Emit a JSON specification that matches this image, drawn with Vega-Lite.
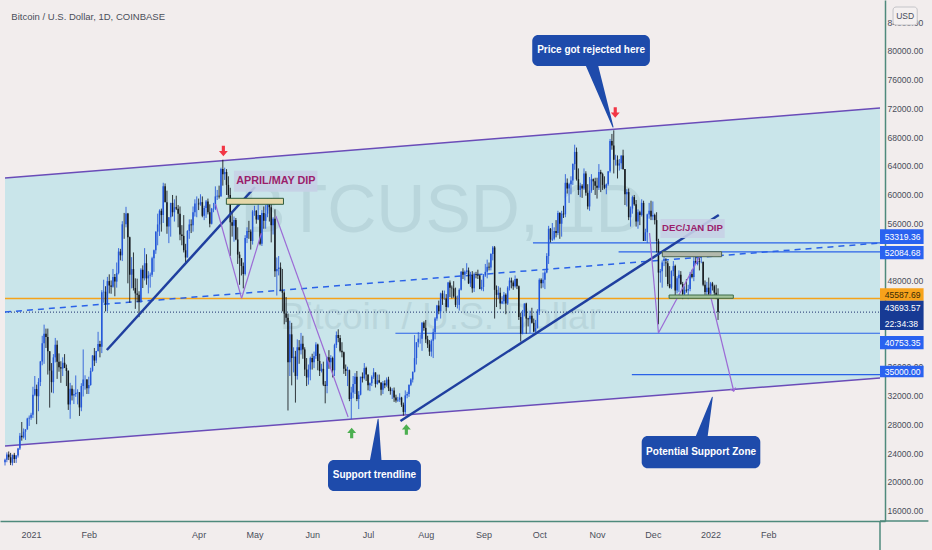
{
"$schema":"https://vega.github.io/schema/vega-lite/v6.json",
"width":885,"height":521,"autosize":"none",
"padding":{"left":0,"top":0,"right":47,"bottom":29},
"background":"#f2eded",
"config":{"font":"Liberation Sans, Arial, sans-serif","view":{"stroke":null}},
"datasets":{
"k":[
{"d":"2020-12-18","o":22800,"h":23300,"l":22350,"c":23140},
{"d":"2020-12-19","o":23140,"h":24170,"l":22800,"c":23860},
{"d":"2020-12-20","o":23860,"h":24300,"l":23100,"c":23480},
{"d":"2020-12-21","o":23480,"h":24100,"l":22400,"c":22730},
{"d":"2020-12-22","o":22730,"h":23850,"l":22350,"c":23830},
{"d":"2020-12-23","o":23830,"h":24100,"l":22700,"c":23240},
{"d":"2020-12-24","o":23240,"h":23800,"l":22700,"c":23730},
{"d":"2020-12-25","o":23730,"h":24800,"l":23450,"c":24700},
{"d":"2020-12-26","o":24700,"h":26870,"l":24500,"c":26490},
{"d":"2020-12-27","o":26490,"h":28400,"l":25800,"c":26270},
{"d":"2020-12-28","o":26270,"h":27500,"l":26100,"c":27050},
{"d":"2020-12-29","o":27050,"h":27400,"l":25900,"c":27370},
{"d":"2020-12-30","o":27370,"h":28990,"l":27330,"c":28880},
{"d":"2020-12-31","o":28880,"h":29300,"l":27850,"c":28990},
{"d":"2021-01-01","o":28990,"h":29680,"l":28700,"c":29410},
{"d":"2021-01-02","o":29410,"h":33300,"l":28950,"c":32200},
{"d":"2021-01-03","o":32200,"h":34800,"l":32000,"c":33000},
{"d":"2021-01-04","o":33000,"h":33600,"l":28100,"c":31990},
{"d":"2021-01-05","o":31990,"h":34500,"l":29900,"c":33970},
{"d":"2021-01-06","o":33970,"h":36900,"l":33400,"c":36820},
{"d":"2021-01-07","o":36820,"h":40400,"l":36300,"c":39370},
{"d":"2021-01-08","o":39370,"h":41950,"l":36500,"c":40670},
{"d":"2021-01-09","o":40670,"h":41400,"l":38700,"c":40240},
{"d":"2021-01-10","o":40240,"h":41400,"l":35000,"c":38240},
{"d":"2021-01-11","o":38240,"h":38260,"l":30400,"c":35550},
{"d":"2021-01-12","o":35550,"h":36600,"l":32500,"c":33950},
{"d":"2021-01-13","o":33950,"h":37850,"l":32400,"c":37390},
{"d":"2021-01-14","o":37390,"h":40100,"l":36700,"c":39150},
{"d":"2021-01-15","o":39150,"h":39750,"l":34400,"c":36770},
{"d":"2021-01-16","o":36770,"h":37950,"l":35400,"c":36010},
{"d":"2021-01-17","o":36010,"h":36850,"l":33850,"c":35830},
{"d":"2021-01-18","o":35830,"h":37400,"l":34800,"c":36640},
{"d":"2021-01-19","o":36640,"h":37850,"l":35900,"c":35920},
{"d":"2021-01-20","o":35920,"h":36400,"l":33400,"c":35510},
{"d":"2021-01-21","o":35510,"h":35600,"l":30080,"c":30840},
{"d":"2021-01-22","o":30840,"h":33850,"l":28850,"c":33020},
{"d":"2021-01-23","o":33020,"h":33500,"l":31400,"c":32080},
{"d":"2021-01-24","o":32080,"h":32950,"l":30900,"c":32280},
{"d":"2021-01-25","o":32280,"h":34880,"l":31900,"c":32460},
{"d":"2021-01-26","o":32460,"h":32950,"l":30850,"c":32530},
{"d":"2021-01-27","o":32530,"h":32560,"l":29240,"c":30430},
{"d":"2021-01-28","o":30430,"h":33800,"l":29900,"c":33420},
{"d":"2021-01-29","o":33420,"h":38500,"l":31950,"c":34300},
{"d":"2021-01-30","o":34300,"h":34900,"l":32900,"c":34300},
{"d":"2021-01-31","o":34300,"h":34350,"l":32300,"c":33100},
{"d":"2021-02-01","o":33100,"h":34700,"l":32300,"c":33540},
{"d":"2021-02-02","o":33540,"h":35950,"l":33450,"c":35520},
{"d":"2021-02-03","o":35520,"h":37700,"l":35400,"c":37660},
{"d":"2021-02-04","o":37660,"h":38700,"l":36200,"c":36950},
{"d":"2021-02-05","o":36950,"h":38300,"l":36600,"c":38290},
{"d":"2021-02-06","o":38290,"h":40950,"l":38200,"c":39250},
{"d":"2021-02-07","o":39250,"h":39700,"l":37400,"c":38880},
{"d":"2021-02-08","o":38880,"h":46750,"l":37990,"c":46450},
{"d":"2021-02-09","o":46450,"h":48200,"l":45000,"c":46530},
{"d":"2021-02-10","o":46530,"h":47300,"l":43800,"c":44850},
{"d":"2021-02-11","o":44850,"h":48600,"l":43800,"c":48010},
{"d":"2021-02-12","o":48010,"h":48950,"l":46300,"c":47400},
{"d":"2021-02-13","o":47400,"h":48100,"l":46250,"c":47230},
{"d":"2021-02-14","o":47230,"h":49700,"l":47100,"c":48600},
{"d":"2021-02-15","o":48600,"h":49000,"l":45900,"c":47940},
{"d":"2021-02-16","o":47940,"h":50600,"l":47100,"c":49160},
{"d":"2021-02-17","o":49160,"h":52600,"l":48950,"c":52120},
{"d":"2021-02-18","o":52120,"h":52500,"l":50900,"c":51600},
{"d":"2021-02-19","o":51600,"h":56350,"l":50800,"c":55920},
{"d":"2021-02-20","o":55920,"h":57500,"l":53900,"c":55910},
{"d":"2021-02-21","o":55910,"h":58350,"l":55500,"c":57410},
{"d":"2021-02-22","o":57410,"h":57500,"l":47700,"c":54120},
{"d":"2021-02-23","o":54120,"h":54200,"l":45000,"c":48900},
{"d":"2021-02-24","o":48900,"h":51350,"l":47000,"c":49680},
{"d":"2021-02-25","o":49680,"h":52000,"l":46700,"c":47060},
{"d":"2021-02-26","o":47060,"h":48400,"l":44150,"c":46300},
{"d":"2021-02-27","o":46300,"h":48350,"l":45100,"c":46120},
{"d":"2021-02-28","o":46120,"h":46600,"l":43000,"c":45150},
{"d":"2021-03-01","o":45150,"h":49800,"l":45000,"c":49600},
{"d":"2021-03-02","o":49600,"h":50200,"l":47050,"c":48400},
{"d":"2021-03-03","o":48400,"h":52600,"l":48100,"c":50500},
{"d":"2021-03-04","o":50500,"h":51750,"l":47500,"c":48400},
{"d":"2021-03-05","o":48400,"h":49400,"l":46300,"c":48800},
{"d":"2021-03-06","o":48800,"h":49200,"l":47100,"c":48900},
{"d":"2021-03-07","o":48900,"h":51400,"l":48600,"c":51200},
{"d":"2021-03-08","o":51200,"h":52400,"l":49300,"c":52300},
{"d":"2021-03-09","o":52300,"h":54900,"l":51800,"c":54900},
{"d":"2021-03-10","o":54900,"h":57400,"l":53000,"c":55900},
{"d":"2021-03-11","o":55900,"h":58000,"l":54300,"c":57800},
{"d":"2021-03-12","o":57800,"h":58100,"l":54900,"c":57200},
{"d":"2021-03-13","o":57200,"h":61700,"l":56100,"c":61200},
{"d":"2021-03-14","o":61200,"h":61600,"l":59000,"c":59000},
{"d":"2021-03-15","o":59000,"h":60600,"l":54600,"c":55600},
{"d":"2021-03-16","o":55600,"h":56900,"l":53300,"c":56900},
{"d":"2021-03-17","o":56900,"h":58900,"l":54200,"c":58900},
{"d":"2021-03-18","o":58900,"h":60000,"l":57000,"c":57600},
{"d":"2021-03-19","o":57600,"h":59400,"l":56300,"c":58300},
{"d":"2021-03-20","o":58300,"h":59900,"l":57900,"c":58100},
{"d":"2021-03-21","o":58100,"h":58600,"l":55500,"c":57400},
{"d":"2021-03-22","o":57400,"h":58400,"l":53700,"c":54500},
{"d":"2021-03-23","o":54500,"h":55800,"l":53000,"c":54300},
{"d":"2021-03-24","o":54300,"h":57200,"l":52000,"c":52300},
{"d":"2021-03-25","o":52300,"h":53200,"l":50400,"c":51300},
{"d":"2021-03-26","o":51300,"h":55100,"l":51300,"c":55000},
{"d":"2021-03-27","o":55000,"h":56600,"l":53900,"c":55900},
{"d":"2021-03-28","o":55900,"h":56600,"l":54700,"c":55800},
{"d":"2021-03-29","o":55800,"h":58400,"l":54900,"c":57600},
{"d":"2021-03-30","o":57600,"h":59400,"l":57000,"c":58800},
{"d":"2021-03-31","o":58800,"h":59800,"l":56900,"c":58800},
{"d":"2021-04-01","o":58800,"h":59500,"l":57900,"c":58700},
{"d":"2021-04-02","o":58700,"h":60100,"l":58500,"c":59000},
{"d":"2021-04-03","o":59000,"h":59800,"l":56900,"c":57100},
{"d":"2021-04-04","o":57100,"h":58500,"l":56500,"c":58200},
{"d":"2021-04-05","o":58200,"h":59300,"l":56800,"c":59100},
{"d":"2021-04-06","o":59100,"h":59500,"l":57300,"c":57600},
{"d":"2021-04-07","o":57600,"h":58700,"l":55500,"c":56000},
{"d":"2021-04-08","o":56000,"h":58200,"l":55900,"c":58100},
{"d":"2021-04-09","o":58100,"h":58900,"l":57600,"c":58100},
{"d":"2021-04-10","o":58100,"h":61200,"l":57900,"c":59800},
{"d":"2021-04-11","o":59800,"h":60700,"l":59300,"c":59900},
{"d":"2021-04-12","o":59900,"h":61300,"l":59500,"c":59800},
{"d":"2021-04-13","o":59800,"h":63800,"l":59800,"c":63600},
{"d":"2021-04-14","o":63600,"h":64900,"l":61300,"c":62900},
{"d":"2021-04-15","o":62900,"h":63800,"l":62100,"c":63200},
{"d":"2021-04-16","o":63200,"h":63600,"l":60000,"c":61400},
{"d":"2021-04-17","o":61400,"h":62600,"l":59600,"c":60000},
{"d":"2021-04-18","o":60000,"h":61000,"l":51500,"c":56200},
{"d":"2021-04-19","o":56200,"h":57600,"l":54200,"c":55700},
{"d":"2021-04-20","o":55700,"h":57000,"l":53500,"c":56500},
{"d":"2021-04-21","o":56500,"h":56800,"l":53700,"c":53800},
{"d":"2021-04-22","o":53800,"h":55500,"l":50400,"c":51700},
{"d":"2021-04-23","o":51700,"h":52100,"l":47500,"c":51200},
{"d":"2021-04-24","o":51200,"h":51200,"l":48800,"c":50100},
{"d":"2021-04-25","o":50100,"h":50600,"l":47000,"c":49000},
{"d":"2021-04-26","o":49000,"h":54400,"l":48800,"c":54000},
{"d":"2021-04-27","o":54000,"h":55500,"l":53300,"c":55000},
{"d":"2021-04-28","o":55000,"h":56400,"l":53900,"c":54900},
{"d":"2021-04-29","o":54900,"h":55200,"l":52400,"c":53600},
{"d":"2021-04-30","o":53600,"h":57900,"l":53100,"c":57700},
{"d":"2021-05-01","o":57700,"h":58500,"l":57100,"c":57800},
{"d":"2021-05-02","o":57800,"h":57900,"l":56000,"c":56600},
{"d":"2021-05-03","o":56600,"h":58900,"l":56500,"c":57200},
{"d":"2021-05-04","o":57200,"h":57200,"l":53000,"c":53200},
{"d":"2021-05-05","o":53200,"h":57900,"l":52900,"c":57500},
{"d":"2021-05-06","o":57500,"h":58400,"l":55300,"c":56400},
{"d":"2021-05-07","o":56400,"h":58600,"l":55300,"c":57400},
{"d":"2021-05-08","o":57400,"h":59500,"l":56900,"c":58900},
{"d":"2021-05-09","o":58900,"h":59300,"l":56300,"c":58300},
{"d":"2021-05-10","o":58300,"h":59500,"l":53400,"c":55800},
{"d":"2021-05-11","o":55800,"h":56900,"l":54500,"c":56700},
{"d":"2021-05-12","o":56700,"h":58000,"l":48600,"c":49400},
{"d":"2021-05-13","o":49400,"h":51300,"l":46000,"c":49700},
{"d":"2021-05-14","o":49700,"h":51500,"l":48800,"c":49900},
{"d":"2021-05-15","o":49900,"h":50600,"l":46600,"c":46700},
{"d":"2021-05-16","o":46700,"h":49700,"l":43800,"c":46400},
{"d":"2021-05-17","o":46400,"h":46600,"l":42000,"c":43500},
{"d":"2021-05-18","o":43500,"h":45800,"l":42300,"c":42900},
{"d":"2021-05-19","o":42900,"h":43500,"l":30000,"c":36700},
{"d":"2021-05-20","o":36700,"h":42500,"l":34800,"c":40600},
{"d":"2021-05-21","o":40600,"h":42200,"l":33500,"c":37300},
{"d":"2021-05-22","o":37300,"h":38800,"l":35300,"c":37500},
{"d":"2021-05-23","o":37500,"h":38300,"l":31100,"c":34800},
{"d":"2021-05-24","o":34800,"h":39900,"l":34300,"c":38800},
{"d":"2021-05-25","o":38800,"h":39800,"l":36500,"c":38400},
{"d":"2021-05-26","o":38400,"h":40800,"l":37800,"c":39300},
{"d":"2021-05-27","o":39300,"h":40400,"l":37200,"c":38500},
{"d":"2021-05-28","o":38500,"h":38800,"l":34800,"c":35700},
{"d":"2021-05-29","o":35700,"h":37300,"l":33400,"c":34600},
{"d":"2021-05-30","o":34600,"h":36400,"l":33600,"c":35700},
{"d":"2021-05-31","o":35700,"h":37500,"l":34200,"c":37300},
{"d":"2021-06-01","o":37300,"h":37900,"l":35700,"c":36700},
{"d":"2021-06-02","o":36700,"h":38200,"l":35900,"c":37600},
{"d":"2021-06-03","o":37600,"h":39500,"l":37200,"c":39200},
{"d":"2021-06-04","o":39200,"h":39300,"l":35600,"c":36900},
{"d":"2021-06-05","o":36900,"h":37900,"l":34800,"c":35500},
{"d":"2021-06-06","o":35500,"h":36500,"l":35300,"c":35800},
{"d":"2021-06-07","o":35800,"h":36800,"l":33400,"c":33600},
{"d":"2021-06-08","o":33600,"h":34100,"l":31000,"c":33400},
{"d":"2021-06-09","o":33400,"h":37500,"l":32400,"c":37400},
{"d":"2021-06-10","o":37400,"h":38400,"l":35800,"c":36700},
{"d":"2021-06-11","o":36700,"h":37700,"l":35900,"c":37300},
{"d":"2021-06-12","o":37300,"h":37500,"l":34600,"c":35600},
{"d":"2021-06-13","o":35600,"h":39300,"l":34800,"c":39100},
{"d":"2021-06-14","o":39100,"h":41000,"l":38700,"c":40500},
{"d":"2021-06-15","o":40500,"h":41300,"l":39500,"c":40100},
{"d":"2021-06-16","o":40100,"h":40500,"l":38100,"c":38300},
{"d":"2021-06-17","o":38300,"h":39500,"l":37400,"c":38100},
{"d":"2021-06-18","o":38100,"h":38200,"l":35100,"c":35800},
{"d":"2021-06-19","o":35800,"h":36400,"l":34800,"c":35500},
{"d":"2021-06-20","o":35500,"h":36100,"l":33400,"c":35600},
{"d":"2021-06-21","o":35600,"h":35700,"l":31300,"c":31600},
{"d":"2021-06-22","o":31600,"h":33300,"l":28800,"c":32500},
{"d":"2021-06-23","o":32500,"h":34800,"l":31700,"c":33700},
{"d":"2021-06-24","o":33700,"h":35200,"l":32300,"c":34700},
{"d":"2021-06-25","o":34700,"h":35500,"l":31300,"c":31600},
{"d":"2021-06-26","o":31600,"h":32700,"l":30200,"c":32200},
{"d":"2021-06-27","o":32200,"h":34700,"l":32100,"c":34700},
{"d":"2021-06-28","o":34700,"h":35300,"l":33900,"c":34500},
{"d":"2021-06-29","o":34500,"h":36600,"l":34300,"c":35900},
{"d":"2021-06-30","o":35900,"h":36100,"l":34100,"c":35000},
{"d":"2021-07-01","o":35000,"h":35000,"l":32800,"c":33500},
{"d":"2021-07-02","o":33500,"h":33900,"l":32700,"c":33800},
{"d":"2021-07-03","o":33800,"h":34900,"l":33400,"c":34700},
{"d":"2021-07-04","o":34700,"h":35900,"l":34400,"c":35300},
{"d":"2021-07-05","o":35300,"h":35300,"l":33200,"c":33700},
{"d":"2021-07-06","o":33700,"h":35000,"l":33600,"c":34200},
{"d":"2021-07-07","o":34200,"h":35000,"l":33800,"c":33900},
{"d":"2021-07-08","o":33900,"h":33900,"l":32100,"c":32900},
{"d":"2021-07-09","o":32900,"h":34100,"l":32300,"c":33800},
{"d":"2021-07-10","o":33800,"h":34200,"l":33100,"c":33500},
{"d":"2021-07-11","o":33500,"h":34600,"l":33300,"c":34300},
{"d":"2021-07-12","o":34300,"h":34700,"l":32700,"c":33100},
{"d":"2021-07-13","o":33100,"h":33300,"l":32200,"c":32700},
{"d":"2021-07-14","o":32700,"h":33100,"l":31600,"c":32800},
{"d":"2021-07-15","o":32800,"h":33200,"l":31200,"c":31800},
{"d":"2021-07-16","o":31800,"h":32200,"l":31100,"c":31400},
{"d":"2021-07-17","o":31400,"h":31900,"l":31200,"c":31500},
{"d":"2021-07-18","o":31500,"h":32400,"l":31200,"c":31800},
{"d":"2021-07-19","o":31800,"h":31900,"l":30500,"c":30800},
{"d":"2021-07-20","o":30800,"h":31100,"l":29300,"c":29800},
{"d":"2021-07-21","o":29800,"h":32800,"l":29500,"c":32100},
{"d":"2021-07-22","o":32100,"h":32600,"l":31700,"c":32300},
{"d":"2021-07-23","o":32300,"h":33600,"l":31900,"c":33600},
{"d":"2021-07-24","o":33600,"h":34500,"l":33400,"c":34300},
{"d":"2021-07-25","o":34300,"h":35400,"l":33900,"c":35400},
{"d":"2021-07-26","o":35400,"h":40500,"l":35300,"c":37300},
{"d":"2021-07-27","o":37300,"h":39500,"l":36400,"c":39500},
{"d":"2021-07-28","o":39500,"h":40900,"l":38800,"c":40000},
{"d":"2021-07-29","o":40000,"h":40600,"l":39300,"c":40000},
{"d":"2021-07-30","o":40000,"h":42300,"l":38300,"c":42200},
{"d":"2021-07-31","o":42200,"h":42400,"l":41100,"c":41500},
{"d":"2021-08-01","o":41500,"h":42600,"l":39400,"c":39900},
{"d":"2021-08-02","o":39900,"h":40400,"l":38700,"c":39200},
{"d":"2021-08-03","o":39200,"h":39800,"l":37600,"c":38200},
{"d":"2021-08-04","o":38200,"h":39900,"l":37500,"c":39700},
{"d":"2021-08-05","o":39700,"h":41400,"l":37300,"c":40900},
{"d":"2021-08-06","o":40900,"h":43000,"l":39900,"c":42800},
{"d":"2021-08-07","o":42800,"h":44700,"l":42500,"c":44600},
{"d":"2021-08-08","o":44600,"h":45300,"l":43400,"c":43800},
{"d":"2021-08-09","o":43800,"h":46400,"l":42800,"c":46300},
{"d":"2021-08-10","o":46300,"h":46700,"l":44700,"c":45600},
{"d":"2021-08-11","o":45600,"h":46700,"l":45400,"c":45600},
{"d":"2021-08-12","o":45600,"h":46200,"l":43800,"c":44400},
{"d":"2021-08-13","o":44400,"h":47900,"l":44300,"c":47800},
{"d":"2021-08-14","o":47800,"h":48100,"l":45800,"c":47100},
{"d":"2021-08-15","o":47100,"h":47400,"l":45600,"c":47000},
{"d":"2021-08-16","o":47000,"h":48000,"l":45700,"c":45900},
{"d":"2021-08-17","o":45900,"h":47100,"l":44400,"c":44700},
{"d":"2021-08-18","o":44700,"h":46000,"l":44200,"c":44700},
{"d":"2021-08-19","o":44700,"h":47000,"l":43900,"c":46800},
{"d":"2021-08-20","o":46800,"h":49400,"l":46700,"c":49300},
{"d":"2021-08-21","o":49300,"h":49800,"l":48300,"c":48900},
{"d":"2021-08-22","o":48900,"h":49500,"l":48100,"c":49300},
{"d":"2021-08-23","o":49300,"h":50500,"l":49000,"c":49500},
{"d":"2021-08-24","o":49500,"h":49900,"l":47600,"c":47700},
{"d":"2021-08-25","o":47700,"h":49300,"l":47200,"c":48900},
{"d":"2021-08-26","o":48900,"h":49400,"l":46400,"c":47000},
{"d":"2021-08-27","o":47000,"h":49200,"l":46500,"c":49000},
{"d":"2021-08-28","o":49000,"h":49300,"l":48400,"c":48900},
{"d":"2021-08-29","o":48900,"h":49600,"l":48300,"c":48800},
{"d":"2021-08-30","o":48800,"h":48900,"l":46900,"c":46900},
{"d":"2021-08-31","o":46900,"h":48200,"l":46700,"c":47200},
{"d":"2021-09-01","o":47200,"h":49000,"l":46600,"c":48800},
{"d":"2021-09-02","o":48800,"h":50400,"l":48600,"c":49300},
{"d":"2021-09-03","o":49300,"h":51000,"l":48400,"c":50000},
{"d":"2021-09-04","o":50000,"h":50600,"l":49500,"c":49900},
{"d":"2021-09-05","o":49900,"h":51900,"l":49500,"c":51800},
{"d":"2021-09-06","o":51800,"h":52900,"l":50900,"c":52700},
{"d":"2021-09-07","o":52700,"h":52900,"l":42800,"c":46800},
{"d":"2021-09-08","o":46800,"h":47400,"l":44400,"c":46100},
{"d":"2021-09-09","o":46100,"h":47300,"l":45500,"c":46400},
{"d":"2021-09-10","o":46400,"h":47100,"l":44100,"c":44900},
{"d":"2021-09-11","o":44900,"h":45900,"l":44800,"c":45200},
{"d":"2021-09-12","o":45200,"h":46500,"l":44800,"c":46100},
{"d":"2021-09-13","o":46100,"h":46300,"l":43400,"c":44900},
{"d":"2021-09-14","o":44900,"h":47300,"l":44700,"c":47100},
{"d":"2021-09-15","o":47100,"h":48500,"l":46700,"c":48100},
{"d":"2021-09-16","o":48100,"h":48500,"l":47000,"c":47800},
{"d":"2021-09-17","o":47800,"h":48100,"l":46800,"c":47300},
{"d":"2021-09-18","o":47300,"h":48800,"l":47100,"c":48300},
{"d":"2021-09-19","o":48300,"h":48400,"l":46900,"c":47300},
{"d":"2021-09-20","o":47300,"h":47400,"l":42600,"c":43000},
{"d":"2021-09-21","o":43000,"h":43600,"l":39600,"c":40700},
{"d":"2021-09-22","o":40700,"h":44000,"l":40600,"c":43600},
{"d":"2021-09-23","o":43600,"h":44900,"l":43100,"c":44900},
{"d":"2021-09-24","o":44900,"h":45000,"l":40700,"c":42800},
{"d":"2021-09-25","o":42800,"h":42900,"l":41700,"c":42700},
{"d":"2021-09-26","o":42700,"h":43900,"l":40800,"c":43200},
{"d":"2021-09-27","o":43200,"h":44300,"l":42100,"c":42200},
{"d":"2021-09-28","o":42200,"h":42800,"l":40900,"c":41000},
{"d":"2021-09-29","o":41000,"h":42600,"l":40800,"c":41500},
{"d":"2021-09-30","o":41500,"h":44100,"l":41400,"c":43800},
{"d":"2021-10-01","o":43800,"h":48400,"l":43300,"c":48200},
{"d":"2021-10-02","o":48200,"h":48400,"l":47000,"c":47700},
{"d":"2021-10-03","o":47700,"h":49200,"l":47100,"c":48200},
{"d":"2021-10-04","o":48200,"h":49500,"l":46900,"c":49200},
{"d":"2021-10-05","o":49200,"h":51900,"l":49100,"c":51500},
{"d":"2021-10-06","o":51500,"h":55700,"l":50400,"c":55300},
{"d":"2021-10-07","o":55300,"h":55400,"l":53400,"c":53800},
{"d":"2021-10-08","o":53800,"h":56100,"l":53600,"c":53900},
{"d":"2021-10-09","o":53900,"h":55500,"l":53700,"c":55000},
{"d":"2021-10-10","o":55000,"h":56500,"l":54100,"c":54700},
{"d":"2021-10-11","o":54700,"h":57800,"l":54400,"c":57500},
{"d":"2021-10-12","o":57500,"h":57600,"l":53900,"c":56000},
{"d":"2021-10-13","o":56000,"h":57800,"l":54200,"c":57400},
{"d":"2021-10-14","o":57400,"h":58500,"l":56800,"c":57300},
{"d":"2021-10-15","o":57300,"h":62900,"l":56900,"c":61700},
{"d":"2021-10-16","o":61700,"h":62300,"l":60200,"c":60900},
{"d":"2021-10-17","o":60900,"h":61700,"l":58900,"c":61500},
{"d":"2021-10-18","o":61500,"h":62600,"l":60100,"c":62000},
{"d":"2021-10-19","o":62000,"h":64400,"l":61400,"c":64300},
{"d":"2021-10-20","o":64300,"h":67000,"l":63500,"c":66000},
{"d":"2021-10-21","o":66000,"h":66600,"l":62000,"c":62200},
{"d":"2021-10-22","o":62200,"h":63700,"l":60000,"c":60700},
{"d":"2021-10-23","o":60700,"h":61700,"l":59700,"c":61300},
{"d":"2021-10-24","o":61300,"h":61500,"l":59600,"c":60900},
{"d":"2021-10-25","o":60900,"h":63700,"l":60700,"c":63000},
{"d":"2021-10-26","o":63000,"h":63300,"l":59900,"c":60300},
{"d":"2021-10-27","o":60300,"h":61500,"l":58000,"c":58400},
{"d":"2021-10-28","o":58400,"h":62500,"l":57800,"c":60600},
{"d":"2021-10-29","o":60600,"h":62900,"l":60300,"c":62200},
{"d":"2021-10-30","o":62200,"h":62300,"l":60700,"c":61900},
{"d":"2021-10-31","o":61900,"h":62400,"l":60000,"c":61300},
{"d":"2021-11-01","o":61300,"h":62400,"l":59500,"c":61000},
{"d":"2021-11-02","o":61000,"h":64300,"l":60700,"c":63200},
{"d":"2021-11-03","o":63200,"h":63500,"l":60400,"c":62900},
{"d":"2021-11-04","o":62900,"h":63100,"l":60700,"c":61400},
{"d":"2021-11-05","o":61400,"h":62600,"l":60800,"c":61000},
{"d":"2021-11-06","o":61000,"h":61600,"l":60100,"c":61500},
{"d":"2021-11-07","o":61500,"h":63300,"l":61300,"c":63300},
{"d":"2021-11-08","o":63300,"h":67800,"l":63100,"c":67500},
{"d":"2021-11-09","o":67500,"h":68500,"l":66300,"c":66900},
{"d":"2021-11-10","o":66900,"h":69000,"l":63000,"c":64900},
{"d":"2021-11-11","o":64900,"h":65600,"l":64100,"c":64900},
{"d":"2021-11-12","o":64900,"h":65500,"l":62300,"c":64100},
{"d":"2021-11-13","o":64100,"h":65000,"l":63400,"c":64400},
{"d":"2021-11-14","o":64400,"h":65500,"l":63600,"c":65500},
{"d":"2021-11-15","o":65500,"h":66300,"l":63500,"c":63600},
{"d":"2021-11-16","o":63600,"h":63600,"l":58600,"c":60100},
{"d":"2021-11-17","o":60100,"h":60800,"l":58400,"c":60400},
{"d":"2021-11-18","o":60400,"h":60900,"l":56500,"c":56900},
{"d":"2021-11-19","o":56900,"h":58400,"l":55600,"c":58100},
{"d":"2021-11-20","o":58100,"h":59900,"l":57400,"c":59700},
{"d":"2021-11-21","o":59700,"h":60000,"l":58500,"c":58700},
{"d":"2021-11-22","o":58700,"h":59300,"l":55600,"c":56300},
{"d":"2021-11-23","o":56300,"h":58000,"l":55300,"c":57600},
{"d":"2021-11-24","o":57600,"h":57800,"l":55800,"c":57200},
{"d":"2021-11-25","o":57200,"h":59400,"l":57000,"c":58900},
{"d":"2021-11-26","o":58900,"h":59200,"l":53600,"c":53600},
{"d":"2021-11-27","o":53600,"h":55300,"l":53600,"c":54800},
{"d":"2021-11-28","o":54800,"h":57400,"l":53300,"c":57300},
{"d":"2021-11-29","o":57300,"h":58900,"l":56700,"c":57800},
{"d":"2021-11-30","o":57800,"h":59200,"l":56500,"c":57000},
{"d":"2021-12-01","o":57000,"h":59100,"l":56500,"c":57200},
{"d":"2021-12-02","o":57200,"h":57400,"l":55900,"c":56500},
{"d":"2021-12-03","o":56500,"h":57600,"l":52000,"c":53600},
{"d":"2021-12-04","o":53600,"h":53900,"l":42000,"c":49200},
{"d":"2021-12-05","o":49200,"h":49700,"l":47800,"c":49400},
{"d":"2021-12-06","o":49400,"h":50900,"l":47100,"c":50600},
{"d":"2021-12-07","o":50600,"h":51900,"l":50100,"c":50600},
{"d":"2021-12-08","o":50600,"h":51200,"l":48600,"c":50500},
{"d":"2021-12-09","o":50500,"h":50800,"l":47300,"c":47600},
{"d":"2021-12-10","o":47600,"h":50100,"l":47000,"c":47100},
{"d":"2021-12-11","o":47100,"h":49500,"l":46900,"c":49400},
{"d":"2021-12-12","o":49400,"h":50800,"l":48700,"c":50100},
{"d":"2021-12-13","o":50100,"h":50300,"l":45700,"c":46700},
{"d":"2021-12-14","o":46700,"h":48700,"l":46300,"c":48400},
{"d":"2021-12-15","o":48400,"h":49500,"l":46500,"c":48900},
{"d":"2021-12-16","o":48900,"h":49400,"l":47500,"c":47600},
{"d":"2021-12-17","o":47600,"h":47900,"l":45500,"c":46200},
{"d":"2021-12-18","o":46200,"h":47300,"l":45900,"c":46800},
{"d":"2021-12-19","o":46800,"h":48300,"l":46400,"c":46700},
{"d":"2021-12-20","o":46700,"h":47500,"l":45500,"c":46900},
{"d":"2021-12-21","o":46900,"h":49300,"l":46600,"c":49000},
{"d":"2021-12-22","o":49000,"h":49600,"l":48400,"c":48600},
{"d":"2021-12-23","o":48600,"h":51400,"l":48000,"c":50800},
{"d":"2021-12-24","o":50800,"h":51800,"l":50400,"c":50400},
{"d":"2021-12-25","o":50400,"h":51200,"l":50200,"c":50800},
{"d":"2021-12-26","o":50800,"h":51300,"l":49500,"c":50700},
{"d":"2021-12-27","o":50700,"h":52000,"l":50500,"c":50700},
{"d":"2021-12-28","o":50700,"h":50700,"l":47300,"c":47500},
{"d":"2021-12-29","o":47500,"h":48100,"l":46100,"c":46500},
{"d":"2021-12-30","o":46500,"h":47900,"l":46000,"c":47100},
{"d":"2021-12-31","o":47100,"h":48500,"l":45700,"c":46200},
{"d":"2022-01-01","o":46200,"h":47900,"l":46100,"c":47700},
{"d":"2022-01-02","o":47700,"h":47900,"l":46700,"c":47300},
{"d":"2022-01-03","o":47300,"h":47500,"l":45700,"c":46400},
{"d":"2022-01-04","o":46400,"h":47500,"l":45500,"c":45800},
{"d":"2022-01-05","o":45800,"h":47000,"l":42600,"c":43694}
]},
"layer":[
{"data":{"values":[{"d":"2020-12-18","u":62363,"l":25058},{"d":"2022-04-02","u":72107,"l":34523}]},
 "mark":{"type":"area","color":"#c9e5ea","opacity":1},
 "encoding":{
  "x":{"field":"d","type":"temporal","scale":{"type":"utc","domain":[{"year":2020,"month":12,"date":18,"utc":true},{"year":2022,"month":4,"date":2,"utc":true}]},
   "axis":{"title":null,"grid":false,"ticks":false,"domainColor":"#4f8a7c","domainWidth":1.5,"labelColor":"#4a4e5a","labelFontSize":9,"labelPadding":9,"labelOverlap":false,
    "values":[{"year":2021,"month":1,"date":1,"utc":true},{"year":2021,"month":2,"date":1,"utc":true},{"year":2021,"month":4,"date":1,"utc":true},{"year":2021,"month":5,"date":1,"utc":true},{"year":2021,"month":6,"date":1,"utc":true},{"year":2021,"month":7,"date":1,"utc":true},{"year":2021,"month":8,"date":1,"utc":true},{"year":2021,"month":9,"date":1,"utc":true},{"year":2021,"month":10,"date":1,"utc":true},{"year":2021,"month":11,"date":1,"utc":true},{"year":2021,"month":12,"date":1,"utc":true},{"year":2022,"month":1,"date":1,"utc":true},{"year":2022,"month":2,"date":1,"utc":true}],
    "labelExpr":"utcmonth(datum.value)==0 ? utcFormat(datum.value,'%Y') : utcFormat(datum.value,'%b')"}},
  "y":{"field":"u","type":"quantitative","scale":{"domain":[14618,87141],"nice":false,"zero":false},
   "axis":{"title":null,"orient":"right","grid":false,"ticks":false,"labels":false,"domainColor":"#4f8a7c","domainWidth":1.5}},
  "y2":{"field":"l"}}},
{"data":{"values":[{"d":"2021-08-10","v":57631,"t":"BTCUSD, 1D"}]},
 "mark":{"type":"text","fontSize":68,"color":"#3a5a66","opacity":0.1,"align":"center","baseline":"middle"},
 "encoding":{"x":{"field":"d","type":"temporal"},"y":{"field":"v","type":"quantitative"},"text":{"field":"t"}}},
{"data":{"values":[{"d":"2021-08-09","v":42900,"t":"Bitcoin / U.S. Dollar"}]},
 "mark":{"type":"text","fontSize":37,"color":"#3a5a66","opacity":0.1,"align":"center","baseline":"middle"},
 "encoding":{"x":{"field":"d","type":"temporal"},"y":{"field":"v","type":"quantitative"},"text":{"field":"t"}}},
{"data":{"values":[{"d":"2020-12-18","v":45587.69,"d2":"2022-04-02","v2":45587.69}]},
 "mark":{"type":"rule","color":"#f5a31a","strokeWidth":1.5},
 "encoding":{"x":{"field":"d","type":"temporal"},"y":{"field":"v","type":"quantitative"},"x2":{"field":"d2"},"y2":{"field":"v2"}}},
{"data":{"values":[{"d":"2020-12-18","v":43693.57,"d2":"2022-04-02","v2":43693.57}]},
 "mark":{"type":"rule","color":"#1c2f6e","strokeWidth":1,"strokeDash":[1,2]},
 "encoding":{"x":{"field":"d","type":"temporal"},"y":{"field":"v","type":"quantitative"},"x2":{"field":"d2"},"y2":{"field":"v2"}}},
{"data":{"values":[
  {"d":"2021-09-27T14:00","v":53319.36,"d2":"2022-04-02","v2":53319.36},
  {"d":"2021-11-12T14:00","v":52084.68,"d2":"2022-04-02","v2":52084.68},
  {"d":"2021-07-15T17:00","v":40753.35,"d2":"2022-04-02","v2":40753.35},
  {"d":"2021-11-19T17:00","v":35000,"d2":"2022-04-02","v2":35000}]},
 "mark":{"type":"rule","color":"#2a62e8","strokeWidth":1.2},
 "encoding":{"x":{"field":"d","type":"temporal"},"y":{"field":"v","type":"quantitative"},"x2":{"field":"d2"},"y2":{"field":"v2"}}},
{"data":{"values":[{"d":"2020-12-18","v":43710,"d2":"2022-04-02","v2":53315}]},
 "mark":{"type":"rule","color":"#2a62e8","strokeWidth":1.5,"strokeDash":[6,5]},
 "encoding":{"x":{"field":"d","type":"temporal"},"y":{"field":"v","type":"quantitative"},"x2":{"field":"d2"},"y2":{"field":"v2"}}},
{"data":{"values":[{"d":"2020-12-18","v":62363,"d2":"2022-04-02","v2":72107},{"d":"2020-12-18","v":25058,"d2":"2022-04-02","v2":34523}]},
 "mark":{"type":"rule","color":"#6a4cb8","strokeWidth":1.5},
 "encoding":{"x":{"field":"d","type":"temporal"},"y":{"field":"v","type":"quantitative"},"x2":{"field":"d2"},"y2":{"field":"v2"}}},
{"data":{"name":"k"},
 "mark":{"type":"rule","strokeWidth":1,"opacity":0.85},
 "encoding":{"x":{"field":"d","type":"temporal"},"y":{"field":"h","type":"quantitative"},"y2":{"field":"l"},
  "color":{"condition":{"test":"datum.c >= datum.o","value":"#2356d8"},"value":"#15181c"}}},
{"data":{"name":"k"},
 "mark":{"type":"bar","size":1.5},
 "encoding":{"x":{"field":"d","type":"temporal"},"y":{"field":"o","type":"quantitative"},"y2":{"field":"c"},
  "color":{"condition":{"test":"datum.c >= datum.o","value":"#2356d8"},"value":"#15181c"}}},
{"data":{"values":[
  {"d":"2021-02-10T17:00","v":38421,"d2":"2021-05-01T07:00","v2":61111},
  {"d":"2021-07-18T10:00","v":28538,"d2":"2022-01-05T10:00","v2":57213}]},
 "mark":{"type":"rule","color":"#1f3f9f","strokeWidth":2.5},
 "encoding":{"x":{"field":"d","type":"temporal"},"y":{"field":"v","type":"quantitative"},"x2":{"field":"d2"},"y2":{"field":"v2"}}},
{"data":{"values":[
  {"d":"2021-04-10T02:00","v":58744,"d2":"2021-04-24T02:00","v2":45618},
  {"d":"2021-04-24T02:00","v":45618,"d2":"2021-05-04T17:00","v2":54666},
  {"d":"2021-05-12T12:00","v":57074,"d2":"2021-06-20T07:00","v2":29095},
  {"d":"2021-11-29T05:00","v":54707,"d2":"2021-12-04T00:00","v2":40787},
  {"d":"2021-12-04T00:00","v":40787,"d2":"2021-12-27T10:00","v2":52063},
  {"d":"2021-12-31T14:00","v":46355,"d2":"2022-01-13T10:00","v2":32714}]},
 "mark":{"type":"rule","color":"#9c6bd6","strokeWidth":1.2},
 "encoding":{"x":{"field":"d","type":"temporal"},"y":{"field":"v","type":"quantitative"},"x2":{"field":"d2"},"y2":{"field":"v2"}}},
{"data":{"values":[{"d":"2022-01-13T10:00","v":32714}]},
 "mark":{"type":"point","shape":"M -1 -1 L 0 0 L 1 -1","angle":-14,"size":30,"filled":false,"stroke":"#9c6bd6","strokeWidth":1.3,"opacity":1},
 "encoding":{"x":{"field":"d","type":"temporal"},"y":{"field":"v","type":"quantitative"}}},
{"data":{"values":[{"d":"2021-04-15T22:00","v":59537,"d2":"2021-05-16T14:00","v2":58702}]},
 "mark":{"type":"rect","fill":"#e6d8a8","stroke":"#2f5d3d","strokeWidth":1},
 "encoding":{"x":{"field":"d","type":"temporal"},"y":{"field":"v","type":"quantitative"},"x2":{"field":"d2"},"y2":{"field":"v2"}}},
{"data":{"values":[{"d":"2021-12-06T02:00","v":52104,"d2":"2022-01-06T22:00","v2":51408}]},
 "mark":{"type":"rect","fill":"#b3b9ad","stroke":"#4f6650","strokeWidth":1},
 "encoding":{"x":{"field":"d","type":"temporal"},"y":{"field":"v","type":"quantitative"},"x2":{"field":"d2"},"y2":{"field":"v2"}}},
{"data":{"values":[{"d":"2021-12-09T17:00","v":46077,"d2":"2022-01-13T05:00","v2":45618}]},
 "mark":{"type":"rect","fill":"#a3c49c","stroke":"#3d6b48","strokeWidth":1},
 "encoding":{"x":{"field":"d","type":"temporal"},"y":{"field":"v","type":"quantitative"},"x2":{"field":"d2"},"y2":{"field":"v2"}}},
{"data":{"values":[
  {"d":"2021-04-20T00:00","v":63380,"d2":"2021-06-03T19:00","v2":60457},
  {"d":"2021-12-05T02:00","v":56656,"d2":"2022-01-08T14:00","v2":54012}]},
 "mark":{"type":"rect","fill":"#c6d0e6","opacity":0.9},
 "encoding":{"x":{"field":"d","type":"temporal"},"y":{"field":"v","type":"quantitative"},"x2":{"field":"d2"},"y2":{"field":"v2"}}},
{"data":{"values":[{"d":"2021-05-12T12:00","v":61946,"t":"APRIL/MAY DIP"}]},
 "mark":{"type":"text","fontSize":10.8,"fontWeight":"bold","color":"#9b1d6b","align":"center","baseline":"middle"},
 "encoding":{"x":{"field":"d","type":"temporal"},"y":{"field":"v","type":"quantitative"},"text":{"field":"t"}}},
{"data":{"values":[{"d":"2021-12-22T07:00","v":55334,"t":"DEC/JAN DIP"}]},
 "mark":{"type":"text","fontSize":9.6,"fontWeight":"bold","color":"#9b1d6b","align":"center","baseline":"middle"},
 "encoding":{"x":{"field":"d","type":"temporal"},"y":{"field":"v","type":"quantitative"},"text":{"field":"t"}}},
{"data":{"values":[{"d":"2021-04-14T07:00","v":66122},{"d":"2021-11-10T19:00","v":71481}]},
 "mark":{"type":"point","shape":"M -0.3 -1 L 0.3 -1 L 0.3 0 L 0.85 0 L 0 1 L -0.85 0 L -0.3 0 Z","size":110,"filled":true,"color":"#f23645","opacity":1},
 "encoding":{"x":{"field":"d","type":"temporal"},"y":{"field":"v","type":"quantitative"}}},
{"data":{"values":[{"d":"2021-06-22T05:00","v":26867},{"d":"2021-07-21T14:00","v":27354}]},
 "mark":{"type":"point","shape":"M -0.3 1 L 0.3 1 L 0.3 0 L 0.85 0 L 0 -1 L -0.85 0 L -0.3 0 Z","size":110,"filled":true,"color":"#4caf50","opacity":1},
 "encoding":{"x":{"field":"d","type":"temporal"},"y":{"field":"v","type":"quantitative"}}},
{"data":{"values":[
  {"id":"c1","d":"2021-10-29T02:00","v":78232,"w":1},{"id":"c1","d":"2021-11-09T14:00","v":69463,"w":0},
  {"id":"c2","d":"2021-07-05T02:00","v":22831,"w":1},{"id":"c2","d":"2021-07-06T10:00","v":28774,"w":0},
  {"id":"c3","d":"2021-12-27T02:00","v":26171,"w":1},{"id":"c3","d":"2022-01-01T22:00","v":31836,"w":0}]},
 "mark":{"type":"trail","color":"#1e4bab"},
 "encoding":{"x":{"field":"d","type":"temporal"},"y":{"field":"v","type":"quantitative"},"detail":{"field":"id"},
  "size":{"field":"w","type":"quantitative","scale":{"domain":[0,1],"range":[0,12]},"legend":null}}},
{"data":{"values":[
  {"d":"2021-09-27T05:00","v":82269,"d2":"2021-11-29T10:00","v2":77954},
  {"d":"2021-06-09T12:00","v":23109,"d2":"2021-07-29T10:00","v2":18794},
  {"d":"2021-11-25T00:00","v":26450,"d2":"2022-01-27T17:00","v2":21953}]},
 "mark":{"type":"rect","fill":"#1e4bab","cornerRadius":6},
 "encoding":{"x":{"field":"d","type":"temporal"},"y":{"field":"v","type":"quantitative"},"x2":{"field":"d2"},"y2":{"field":"v2"}}},
{"data":{"values":[
  {"d":"2021-10-28T19:00","v":80112,"t":"Price got rejected here"},
  {"d":"2021-07-04T10:00","v":20952,"t":"Support trendline"},
  {"d":"2021-12-26T22:00","v":24223,"t":"Potential Support Zone"}]},
 "mark":{"type":"text","fontSize":10,"fontWeight":"bold","color":"#ffffff","align":"center","baseline":"middle"},
 "encoding":{"x":{"field":"d","type":"temporal"},"y":{"field":"v","type":"quantitative"},"text":{"field":"t"}}},
{"data":{"values":[
  {"d":"2022-04-02","v":14618,"d2":"2022-04-28","v2":14618},
  {"d":"2022-04-02","v":14618,"d2":"2022-04-02","v2":10400}]},
 "mark":{"type":"rule","color":"#4f8a7c","strokeWidth":1.5},
 "encoding":{"x":{"field":"d","type":"temporal"},"y":{"field":"v","type":"quantitative"},"x2":{"field":"d2"},"y2":{"field":"v2"}}},
{"data":{"values":[
  {"d":"2022-04-06","v":16000},{"d":"2022-04-06","v":20000},{"d":"2022-04-06","v":24000},{"d":"2022-04-06","v":28000},
  {"d":"2022-04-06","v":32000},{"d":"2022-04-06","v":36000},
  {"d":"2022-04-06","v":48000},{"d":"2022-04-06","v":56000},{"d":"2022-04-06","v":60000},
  {"d":"2022-04-06","v":64000},{"d":"2022-04-06","v":68000},{"d":"2022-04-06","v":72000},{"d":"2022-04-06","v":76000},
  {"d":"2022-04-06","v":80000},{"d":"2022-04-06","v":84000}]},
 "mark":{"type":"text","fontSize":8.6,"color":"#4a4e5a","align":"left","baseline":"middle"},
 "encoding":{"x":{"field":"d","type":"temporal"},"y":{"field":"v","type":"quantitative"},"text":{"field":"v","type":"quantitative","format":".2f"}}},
{"data":{"values":[
  {"d":"2022-04-02","v":55222,"d2":"2022-04-25T10:00","v2":53176,"k":"b"},
  {"d":"2022-04-02","v":52898,"d2":"2022-04-25T10:00","v2":51047,"k":"b"},
  {"d":"2022-04-02","v":47009,"d2":"2022-04-25T10:00","v2":45283,"k":"o"},
  {"d":"2022-04-02","v":45283,"d2":"2022-04-25T10:00","v2":41205,"k":"n"},
  {"d":"2022-04-02","v":40370,"d2":"2022-04-25T10:00","v2":38519,"k":"b"},
  {"d":"2022-04-02","v":36235,"d2":"2022-04-25T10:00","v2":34620,"k":"b"}]},
 "mark":{"type":"rect"},
 "encoding":{"x":{"field":"d","type":"temporal"},"y":{"field":"v","type":"quantitative"},"x2":{"field":"d2"},"y2":{"field":"v2"},
  "color":{"field":"k","type":"nominal","scale":{"domain":["b","o","n"],"range":["#2962f0","#f7a21b","#173a94"]},"legend":null}}},
{"data":{"values":[
  {"d":"2022-04-04T12:00","v":54193,"t":"53319.36","k":"w"},
  {"d":"2022-04-04T12:00","v":51965,"t":"52084.68","k":"w"},
  {"d":"2022-04-04T12:00","v":46146,"t":"45587.69","k":"d"},
  {"d":"2022-04-04T12:00","v":44267,"t":"43693.57","k":"w"},
  {"d":"2022-04-04T12:00","v":42040,"t":"22:34:38","k":"w"},
  {"d":"2022-04-04T12:00","v":39437,"t":"40753.35","k":"w"},
  {"d":"2022-04-04T12:00","v":35428,"t":"35000.00","k":"w"}]},
 "mark":{"type":"text","fontSize":8.6,"align":"left","baseline":"middle"},
 "encoding":{"x":{"field":"d","type":"temporal"},"y":{"field":"v","type":"quantitative"},"text":{"field":"t"},
  "fill":{"field":"k","type":"nominal","scale":{"domain":["w","d"],"range":["#ffffff","#3a2a05"]},"legend":null}}},
{"data":{"values":[{"d":"2022-04-09","v":86166,"d2":"2022-04-22","v2":83661}]},
 "mark":{"type":"rect","fill":"#f4f0f0","stroke":"#c4c4c8","strokeWidth":1,"cornerRadius":3},
 "encoding":{"x":{"field":"d","type":"temporal"},"y":{"field":"v","type":"quantitative"},"x2":{"field":"d2"},"y2":{"field":"v2"}}},
{"data":{"values":[{"d":"2022-04-15T12:00","v":84914,"t":"USD"}]},
 "mark":{"type":"text","fontSize":8.5,"color":"#4a4e5a","align":"center","baseline":"middle"},
 "encoding":{"x":{"field":"d","type":"temporal"},"y":{"field":"v","type":"quantitative"},"text":{"field":"t"}}},
{"data":{"values":[{"d":"2020-12-21T10:00","v":84775,"t":"Bitcoin / U.S. Dollar, 1D, COINBASE"}]},
 "mark":{"type":"text","fontSize":9.5,"color":"#4a4e5a","align":"left","baseline":"middle"},
 "encoding":{"x":{"field":"d","type":"temporal"},"y":{"field":"v","type":"quantitative"},"text":{"field":"t"}}}
]
}
